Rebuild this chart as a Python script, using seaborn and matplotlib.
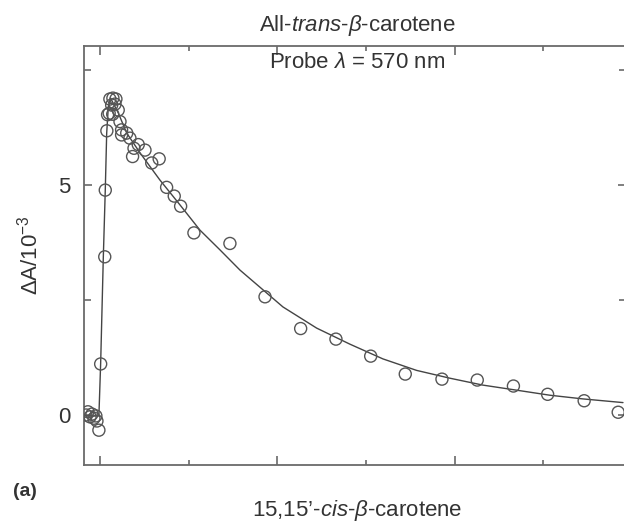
import matplotlib
matplotlib.use("Agg")
import matplotlib.pyplot as plt
import seaborn as sns
import pandas as pd
import numpy as np
from matplotlib.ticker import FixedLocator

# ---- data ----
point_t = [-0.79, -0.68, -0.56, -0.45, -0.34, -0.23, -0.17, -0.06,
           0.04, 0.27, 0.30, 0.39, 0.43, 0.56, 0.73, 0.90, 0.66, 0.85,
           0.52, 0.72, 1.03, 1.13, 1.22, 1.22, 1.51, 1.69, 1.84, 1.92,
           2.16, 2.54, 2.92, 3.34, 3.76, 4.19, 4.55, 5.30, 7.33, 9.31,
           11.32, 13.31, 15.27, 17.22, 19.29, 21.28, 23.32, 25.25, 27.31, 29.23]
point_dA = [0.00, 0.07, -0.04, 0.02, -0.07, -0.02, -0.13, -0.33,
            1.11, 3.44, 4.89, 6.18, 6.53, 6.87, 6.89, 6.87, 6.74, 6.76,
            6.56, 6.54, 6.63, 6.38, 6.20, 6.09, 6.13, 6.02, 5.62, 5.80,
            5.88, 5.76, 5.48, 5.57, 4.95, 4.76, 4.54, 3.96, 3.73, 2.57,
            1.88, 1.65, 1.28, 0.89, 0.78, 0.76, 0.63, 0.45, 0.31, 0.06]

fit_t = [-0.90, -0.06, 0.04, 0.19, 0.30, 0.38, 0.47, 0.60, 1.03, 1.51,
         2.26, 3.38, 4.51, 5.64, 6.77, 7.90, 9.02, 10.32, 12.22, 14.10,
         15.96, 17.86, 19.74, 21.60, 23.50, 25.38, 27.24, 29.50]
fit_dA = [-0.02, -0.02, 1.13, 3.44, 4.89, 6.13, 6.70, 6.89, 6.57, 6.13,
          5.70, 5.11, 4.57, 4.02, 3.59, 3.15, 2.78, 2.35, 1.89, 1.54,
          1.22, 0.97, 0.80, 0.65, 0.54, 0.43, 0.35, 0.27]

y_tick_values = [0, 5]
y_tick_labels = ["0", "5"]
y_minor_values = [2.5, 7.5]
x_major_values = [0, 10, 20]
x_minor_values = [5, 15, 25]

title_text = r"All-$\it{trans}$-$\beta$-carotene"
probe_text = r"Probe $\lambda$ = 570 nm"
ylabel_text = r"$\Delta$A/10$^{-3}$"
bottom_text = "15,15\u2019-$\\it{cis}$-$\\beta$-carotene"
panel_text = "(a)"

# ---- style ----
sns.set_theme(style="ticks")
plt.rcParams["font.family"] = ["Liberation Sans", "DejaVu Sans"]
plt.rcParams["mathtext.fontset"] = "custom"
plt.rcParams["mathtext.rm"] = "Liberation Sans"
plt.rcParams["mathtext.it"] = "Liberation Sans:italic"
plt.rcParams["mathtext.bf"] = "Liberation Sans:bold"

ink = "#444444"
spine_c = "#6a6a6a"
fs = 16

fig = plt.figure(figsize=(6.24, 5.22), dpi=100)
ax = fig.add_axes([84 / 624, 1 - 465 / 522, (626 - 84) / 624, (465 - 45.7) / 522])

pts = pd.DataFrame({"t": point_t, "dA": point_dA})
fit = pd.DataFrame({"t": fit_t, "dA": fit_dA})

sns.lineplot(data=fit, x="t", y="dA", ax=ax, sort=False, estimator=None,
             color=ink, linewidth=1.0)
sns.scatterplot(data=pts, x="t", y="dA", ax=ax, marker="o", s=75,
                facecolor="none", edgecolor="#555555", linewidth=1.0, zorder=3)

ax.set_xlim(-0.90, 29.67)
ax.set_ylim(-1.087, 8.03)
ax.set_xlabel("")
ax.set_ylabel("")

ax.xaxis.set_major_locator(FixedLocator(x_major_values))
ax.xaxis.set_minor_locator(FixedLocator(x_minor_values))
ax.set_xticklabels([])
ax.yaxis.set_major_locator(FixedLocator(y_tick_values))
ax.yaxis.set_minor_locator(FixedLocator(y_minor_values))
ax.set_yticklabels(y_tick_labels)

ax.tick_params(axis="both", which="both", direction="in", top=True, right=True,
               color=spine_c, width=1.2)
ax.tick_params(axis="x", which="major", length=6.5)
ax.tick_params(axis="x", which="minor", length=3.5)
ax.tick_params(axis="y", which="major", length=6, labelsize=fs, pad=10,
               labelcolor="#333333")
ax.tick_params(axis="y", which="minor", length=5)

for sp in ax.spines.values():
    sp.set_visible(True)
    sp.set_color(spine_c)
    sp.set_linewidth(1.3)

fig.text(357 / 624, 1 - 25 / 522, title_text, ha="center", va="center",
         fontsize=fs, color="#333333")
fig.text(357 / 624, 1 - 62 / 522, probe_text, ha="center", va="center",
         fontsize=fs, color="#333333")
fig.text(30 / 624, 1 - 255 / 522, ylabel_text, ha="center", va="center",
         rotation=90, fontsize=fs, color="#333333")
fig.text(357 / 624, 1 - 516 / 522, bottom_text, ha="center", va="baseline",
         fontsize=fs, color="#333333")
fig.text(13 / 624, 1 - 492 / 522, panel_text, ha="left", va="center",
         fontsize=fs - 2, fontweight="bold", color="#333333")

fig.savefig("out.png", dpi=100)
